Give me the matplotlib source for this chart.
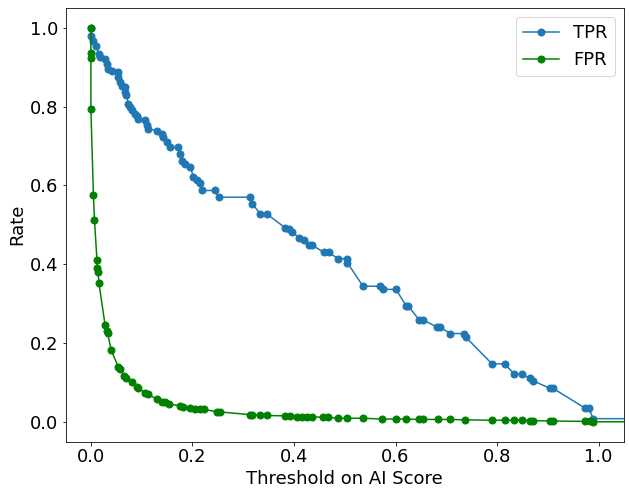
import matplotlib
matplotlib.use("Agg")
import matplotlib.pyplot as plt

tpr_thr = [0.0, 0.001, 0.005, 0.011, 0.015, 0.018, 0.028, 0.031, 0.034, 0.041, 0.054, 0.054,
           0.057, 0.061, 0.067, 0.067, 0.07, 0.074, 0.077, 0.08, 0.087, 0.09, 0.093, 0.107,
           0.11, 0.113, 0.13, 0.14, 0.143, 0.149, 0.156, 0.172, 0.176, 0.179, 0.186, 0.196,
           0.202, 0.209, 0.215, 0.219, 0.245, 0.252, 0.314, 0.318, 0.334, 0.347, 0.383, 0.39,
           0.396, 0.41, 0.419, 0.429, 0.436, 0.459, 0.468, 0.487, 0.504, 0.505, 0.536, 0.569,
           0.576, 0.601, 0.621, 0.625, 0.647, 0.655, 0.682, 0.688, 0.708, 0.734, 0.739, 0.79,
           0.815, 0.834, 0.85, 0.864, 0.871, 0.904, 0.91, 0.973, 0.981, 0.989, 1.2]
tpr = [1.0, 0.98, 0.967, 0.954, 0.933, 0.925, 0.92, 0.908, 0.896, 0.891, 0.887, 0.874,
       0.862, 0.853, 0.849, 0.837, 0.828, 0.807, 0.798, 0.79, 0.781, 0.777, 0.769, 0.765,
       0.752, 0.743, 0.739, 0.73, 0.722, 0.71, 0.697, 0.697, 0.68, 0.663, 0.655, 0.646,
       0.621, 0.613, 0.605, 0.587, 0.587, 0.57, 0.57, 0.553, 0.527, 0.527, 0.492, 0.488,
       0.482, 0.467, 0.461, 0.448, 0.448, 0.43, 0.43, 0.414, 0.414, 0.404, 0.344, 0.344,
       0.336, 0.336, 0.294, 0.294, 0.258, 0.258, 0.24, 0.24, 0.224, 0.224, 0.214, 0.147,
       0.147, 0.121, 0.121, 0.11, 0.104, 0.085, 0.085, 0.035, 0.035, 0.008, 0.008]

fpr_thr = [0.0, 0.0, 0.0, 0.0, 0.005, 0.007, 0.012, 0.012, 0.014, 0.016, 0.028, 0.031,
           0.033, 0.04, 0.054, 0.057, 0.066, 0.07, 0.08, 0.09, 0.093, 0.107, 0.113, 0.13,
           0.14, 0.146, 0.153, 0.176, 0.182, 0.196, 0.206, 0.215, 0.222, 0.248, 0.255, 0.314,
           0.318, 0.334, 0.347, 0.383, 0.393, 0.406, 0.416, 0.426, 0.436, 0.457, 0.467, 0.487,
           0.505, 0.536, 0.573, 0.601, 0.621, 0.647, 0.655, 0.684, 0.708, 0.736, 0.79, 0.815,
           0.834, 0.85, 0.864, 0.871, 0.904, 0.91, 0.973, 0.983, 0.989, 1.2]
fpr = [1.0, 0.935, 0.923, 0.794, 0.575, 0.513, 0.41, 0.391, 0.379, 0.351, 0.245, 0.23,
       0.225, 0.181, 0.14, 0.133, 0.117, 0.11, 0.102, 0.088, 0.085, 0.074, 0.07, 0.057,
       0.051, 0.049, 0.045, 0.041, 0.037, 0.035, 0.033, 0.032, 0.032, 0.025, 0.025, 0.018,
       0.018, 0.017, 0.016, 0.015, 0.015, 0.013, 0.013, 0.012, 0.012, 0.012, 0.011, 0.009,
       0.009, 0.009, 0.007, 0.007, 0.007, 0.006, 0.006, 0.006, 0.006, 0.005, 0.004, 0.004,
       0.004, 0.004, 0.003, 0.003, 0.002, 0.002, 0.001, 0.001, 0.0, 0.0]

plt.rcParams['font.size'] = 18
fig = plt.figure(figsize=(629 / 72, 496 / 72), dpi=72)
ax = fig.add_axes([65.5 / 629, 1 - 441.5 / 496, (624 - 65.5) / 629, (441.5 - 8) / 496])
ax.plot(tpr_thr, tpr, marker='o', color='#1f77b4', markersize=7, label='TPR')
ax.plot(fpr_thr, fpr, marker='o', color='green', markersize=7, label='FPR')
ax.set_xlim(-0.05, 1.05)
ax.set_ylim(-0.05, 1.05)
ax.set_xlabel('Threshold on AI Score')
ax.set_ylabel('Rate')
ax.legend(loc='upper right')
fig.savefig('out.png', dpi=72)
